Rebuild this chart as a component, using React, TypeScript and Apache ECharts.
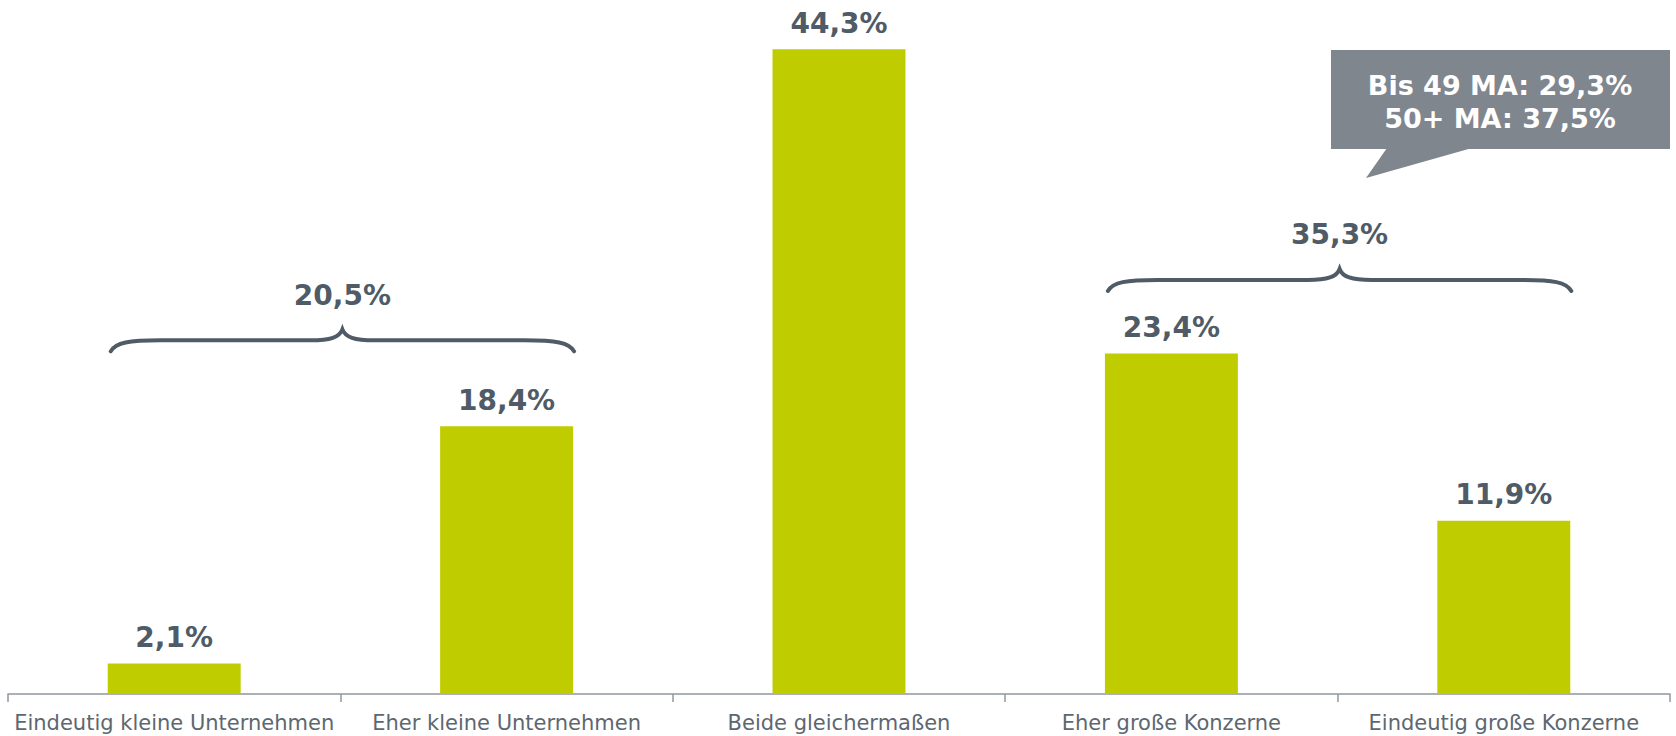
import React, { useEffect, useRef } from "react";
import * as echarts from "echarts";

const categories = [
  "Eindeutig kleine Unternehmen",
  "Eher kleine Unternehmen",
  "Beide gleichermaßen",
  "Eher große Konzerne",
  "Eindeutig große Konzerne",
];
const values = [2.1, 18.4, 44.3, 23.4, 11.9];
// brace groups: from category index, to category index, level (value units), label
const braceFrom = [0, 3];
const braceTo = [1, 4];
const braceLevel = [24.3, 28.45];
const braceLabels = ["20,5%", "35,3%"];
const calloutLines = ["Bis 49 MA: 29,3%", "50+ MA: 37,5%"];

const fmt = (v: number) => v.toFixed(1).replace(".", ",") + "%";

const FONT = "DejaVu Sans, Verdana, sans-serif";
const DARK = "#4f5b66";
const BAR = "#bfcd00";

export default function App() {
  const ref = useRef<HTMLDivElement>(null);
  useEffect(() => {
    if (!ref.current) return;
    const chart = echarts.init(ref.current, null, { renderer: "svg" });
    const braceData = braceFrom.map((f, i) => [f, braceLevel[i], braceTo[i], i]);
    chart.setOption({
      animation: false,
      grid: { left: 8, right: 6, top: 10, bottom: 42 },
      xAxis: {
        type: "category",
        data: categories,
        axisLine: { lineStyle: { color: "#8f979e", width: 1.5 } },
        axisTick: { show: true, length: 8, lineStyle: { color: "#8f979e", width: 1.5 } },
        axisLabel: {
          color: "#5d6770",
          fontFamily: FONT,
          fontSize: 21,
          margin: 18,
          interval: 0,
        },
      },
      yAxis: { type: "value", min: 0, max: 47, show: false, splitLine: { show: false } },
      series: [
        {
          type: "bar",
          data: values,
          barWidth: "40%",
          itemStyle: { color: BAR },
          label: {
            show: true,
            position: "top",
            distance: 12,
            formatter: (p: any) => fmt(p.value),
            color: DARK,
            fontFamily: FONT,
            fontWeight: "bold",
            fontSize: 28,
          },
        },
        {
          type: "custom",
          clip: false,
          z: 5,
          data: braceData,
          encode: { x: 0, y: 1 },
          renderItem: (params: any, api: any) => {
            const from = api.value(0);
            const level = api.value(1);
            const to = api.value(2);
            const idx = api.value(3);
            const p0 = api.coord([from, level]);
            const p1 = api.coord([to, level]);
            const bw = api.size([1, 0])[0];
            const half = bw * 0.2;
            const x0 = p0[0] - half + 3;
            const x1 = p1[0] + half + 1;
            const y = p0[1];
            const xc = (x0 + x1) / 2;
            const d =
              `M${x0},${y + 11} C${x0 + 5},${y + 2} ${x0 + 18},${y} ${x0 + 50},${y} ` +
              `L${xc - 32},${y} C${xc - 12},${y} ${xc - 3},${y - 3} ${xc},${y - 11} ` +
              `C${xc + 3},${y - 3} ${xc + 12},${y} ${xc + 32},${y} ` +
              `L${x1 - 50},${y} C${x1 - 18},${y} ${x1 - 5},${y + 2} ${x1},${y + 11}`;
            return {
              type: "group",
              children: [
                {
                  type: "path",
                  shape: { pathData: d },
                  style: { fill: "none", stroke: DARK, lineWidth: 4, lineCap: "round" },
                },
                {
                  type: "text",
                  x: xc,
                  y: y - 45,
                  style: {
                    text: braceLabels[idx],
                    fill: DARK,
                    fontFamily: FONT,
                    fontWeight: "bold",
                    fontSize: 28,
                    align: "center",
                    verticalAlign: "middle",
                  },
                },
              ],
            };
          },
        },
      ],
      graphic: [
        {
          type: "group",
          children: [
            {
              type: "rect",
              shape: { x: 1331, y: 50, width: 339, height: 99 },
              style: { fill: "#7f868e" },
            },
            {
              type: "polygon",
              shape: { points: [[1387, 148], [1472, 148], [1366, 178]] },
              style: { fill: "#7f868e" },
            },
            {
              type: "text",
              x: 1500,
              y: 102,
              style: {
                text: calloutLines.join("\n"),
                fill: "#ffffff",
                fontFamily: FONT,
                fontWeight: "bold",
                fontSize: 27,
                lineHeight: 33,
                align: "center",
                verticalAlign: "middle",
              },
            },
          ],
        },
      ],
    });
    return () => chart.dispose();
  }, []);
  return (
    <div
      ref={ref}
      style={{ position: "absolute", left: 0, top: 0, width: 1676, height: 736 }}
    />
  );
}
